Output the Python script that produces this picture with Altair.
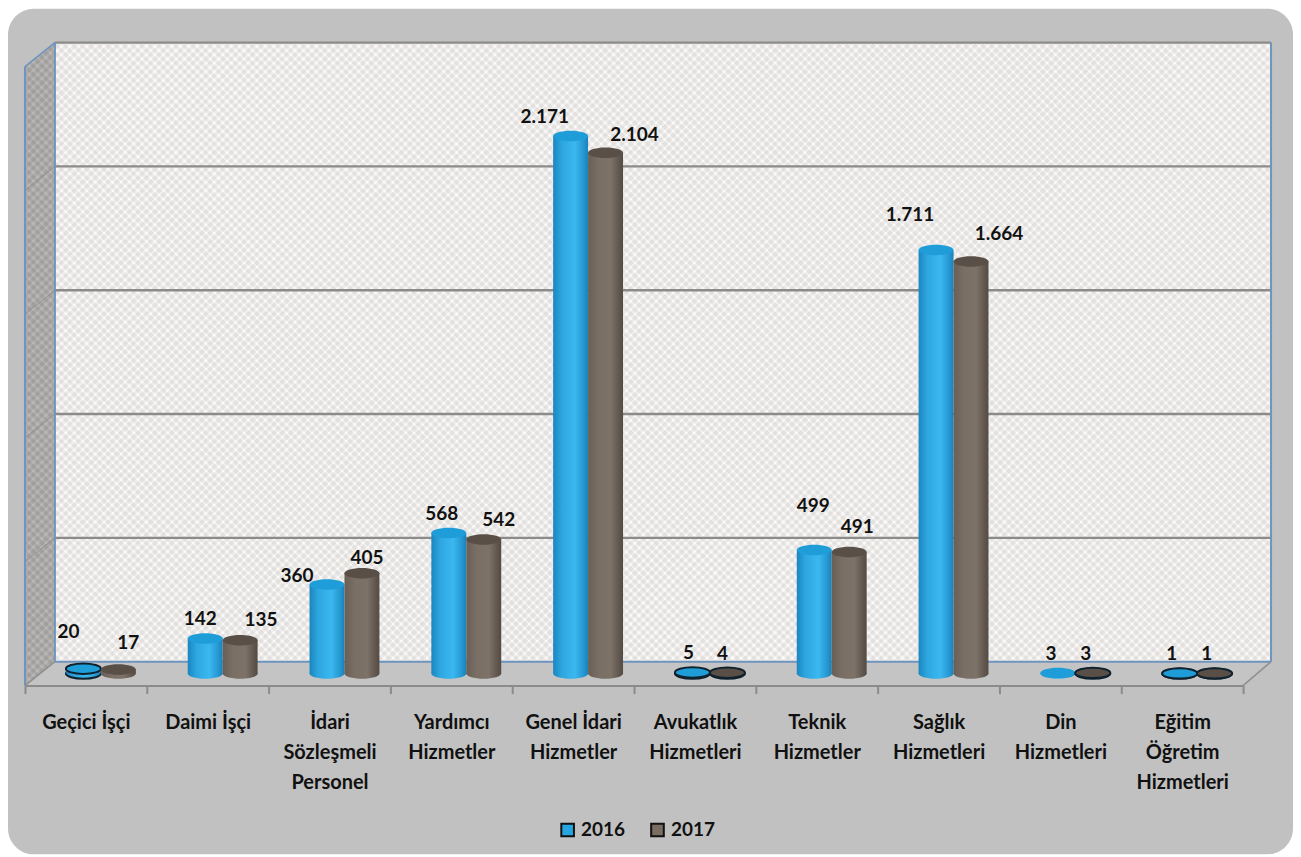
import math
import altair as alt

categories = ["Geçici İşçi", "Daimi İşçi", "İdari\nSözleşmeli\nPersonel", "Yardımcı\nHizmetler",
              "Genel İdari\nHizmetler", "Avukatlık\nHizmetleri", "Teknik\nHizmetler",
              "Sağlık\nHizmetleri", "Din\nHizmetleri", "Eğitim\nÖğretim\nHizmetleri"]
years = ["2016", "2017"]
values_2016 = [20, 142, 360, 568, 2171, 5, 499, 1711, 3, 1]
values_2017 = [17, 135, 405, 542, 2104, 4, 491, 1664, 3, 1]
labels_2016 = ["20", "142", "360", "568", "2.171", "5", "499", "1.711", "3", "1"]
labels_2017 = ["17", "135", "405", "542", "2.104", "4", "491", "1.664", "3", "1"]
outlined_2016 = [True, False, False, False, False, True, False, False, False, True]
outlined_2017 = [False, False, False, False, False, True, False, False, True, True]
nudge_x_2016 = [-15, -5, -30, -7, -26, -4, -1, -26, -7, -8]
nudge_y_2016 = [-37, -19, -8, -19, -19, -19, -44, -35, -19, -19]
nudge_x_2017 = [10, 21, 5, 15, 29, -5, 8, 28, -7, -8]
nudge_y_2017 = [-26, -20, -15, -19, -18, -19, -25, -28, -19, -19]
gridline_values = [500, 1000, 1500, 2000, 2500]

# layout, relative to the page
CANVAS_W, CANVAS_H = 1287, 847
PAD_L, PAD_T = 17, 46
PLOT_W, PLOT_H = 1220, 620
ELLIPSE = "M-1,0 A1,0.3 0 1 1 1,0 A1,0.3 0 1 1 -1,0 Z"


def hatch(w, h, rising, period, color):
    a, b = 1.0, h / w
    s = (a + b) / (a * a + b * b)
    extent = (w + h) / math.sqrt(2)
    n = int(extent / period)
    stops = []
    for i in range(n):
        for frac, col in ((0.0, "rgba(0,0,0,0)"), (0.35, "rgba(0,0,0,0)"), (0.65, color), (1.0, color)):
            stops.append(alt.GradientStop(color=col, offset=min(1.0, (i + frac) / n)))
    if rising:
        return alt.Gradient(gradient="linear", stops=stops, x1=0, y1=1, x2=s * a, y2=1 - s * b)
    return alt.Gradient(gradient="linear", stops=stops, x1=0, y1=0, x2=s * a, y2=s * b)


def horiz(*pairs):
    return alt.Gradient(gradient="linear", x1=0, x2=1, y1=0, y2=0,
                        stops=[alt.GradientStop(offset=o, color=c) for o, c in pairs])


body_fill = {
    "2016": horiz((0, "#1a86c0"), (0.25, "#2ea6df"), (0.62, "#3bb8f0"), (0.88, "#2596d0"), (1, "#1a80b8")),
    "2017": horiz((0, "#6a5f56"), (0.3, "#7a6f65"), (0.65, "#7d7268"), (0.9, "#5f554d"), (1, "#544b44")),
}
top_colors = ["#1f9dd9", "#594f47"]

rows = []
for i, cat in enumerate(categories):
    for y, vals, labs, outl, nx, ny in (
        ("2016", values_2016, labels_2016, outlined_2016, nudge_x_2016, nudge_y_2016),
        ("2017", values_2017, labels_2017, outlined_2017, nudge_x_2017, nudge_y_2017),
    ):
        rows.append(dict(cat=cat, year=y, v=vals[i], zero=0, label=labs[i], outlined=outl[i], nx=nx[i], ny=ny[i]))

x_scale = alt.Scale(domain=categories, paddingInner=0, paddingOuter=0)
off_scale = alt.Scale(domain=years, range=[41, 111], paddingInner=0, paddingOuter=0)
y_scale = alt.Scale(domain=[0, 2500], nice=False, zero=True)
X = alt.X("cat:N", scale=x_scale, axis=None, sort=None)
XO = alt.XOffset("year:N", scale=off_scale, sort=None)
Yv = alt.Y("v:Q", scale=y_scale, axis=None)
Y0 = alt.Y("zero:Q", scale=y_scale, axis=None)
stroke_w = alt.condition("datum.outlined", alt.value(2), alt.value(0))
one = alt.Data(values=[{"a": 1}])


def rel_x(px):
    return px - PAD_L - 8


def rel_y(py):
    return py - PAD_T - 8


def box(mark, left, right, top, bottom):
    return mark.encode(x=alt.value(rel_x(left)), x2=alt.value(rel_x(right)),
                       y=alt.value(rel_y(top)), y2=alt.value(rel_y(bottom)))


def hline(x1, y1, x2, y2, color, width):
    return alt.Chart(one).mark_rule(color=color, strokeWidth=width).encode(
        x=alt.value(rel_x(x1)), x2=alt.value(rel_x(x2)), y=alt.value(rel_y(y1)), y2=alt.value(rel_y(y2)))


def polygon(points, fill, **kw):
    vals = [dict(px=rel_x(a), t=rel_y(b), u=rel_y(c)) for a, b, c in points]
    return alt.Chart(alt.Data(values=vals)).mark_area(fill=fill, **kw).encode(
        x=alt.X("px:Q", scale=None, axis=None),
        y=alt.Y("t:Q", scale=None, axis=None),
        y2="u:Q",
    )


layers = []
# panel
layers.append(box(alt.Chart(one).mark_rect(color="#c1c1c1", cornerRadius=26), 8, 1295, 8, 855))
# back wall
WL, WR, WT, WB = 55, 1273, 42, 662
layers.append(box(alt.Chart(one).mark_rect(color="#fbfaf9"), WL, WR, WT, WB))
for rising in (True, False):
    layers.append(box(alt.Chart(one).mark_rect(fill=hatch(WR - WL, WB - WT, rising, 6, "rgba(175,170,165,0.17)")),
                      WL, WR, WT, WB))
# left wall
LEFT = [(25, 66, 686), (55, 42, 662)]
layers.append(polygon(LEFT, "#b9b8b6"))
for rising in (True, False):
    layers.append(polygon(LEFT, hatch(30, 644, rising, 6, "rgba(95,92,90,0.15)")))
# floor
layers.append(polygon([(25, 686, 686), (55, 662, 686), (1245, 662, 686), (1273, 662, 662)], "#c4c4c4"))
# gridlines on the walls
grid_y = [WB - (WB - WT) * g / 2500 for g in gridline_values]
for gy in grid_y:
    layers.append(hline(WL, gy, WR, gy, "#8b8b89", 2.4))
    layers.append(hline(25, gy + 24, WL, gy, "#8f8f8f", 1))
# wall outlines
layers.append(hline(WL, 662, WR, 662, "#6f94c0", 2))
layers.append(hline(WL, WT, WL, WB, "#6f94c0", 2))
layers.append(hline(WR, WT, WR, WB, "#6f94c0", 2))
layers.append(hline(25, 66, 25, 686, "#6f94c0", 2))
layers.append(hline(25, 66, WL, WT, "#6f94c0", 1.5))
layers.append(hline(25, 686, WL, 662, "#8f8f8f", 1.5))
layers.append(hline(1245, 686, WR, 662, "#8f8f8f", 1.5))

# category axis and legend on an invisible layer
layers.append(alt.Chart(alt.Data(values=rows)).mark_point(opacity=0, filled=True).encode(
    x=alt.X("cat:N", scale=x_scale, sort=None, title=None, axis=alt.Axis(
        orient="bottom", offset=12, tickBand="extent", labelAngle=0, domainColor="#8b8b8b", domainWidth=2,
        tickColor="#8b8b8b", tickWidth=2, tickSize=8, labelFont="Lato", labelFontWeight="bold",
        labelFontSize=20, labelColor="#111111", labelLimit=0, labelPadding=19, labelLineHeight=30,
        labelBaseline="top", labelExpr="split(datum.label, '\\n')", grid=False, zindex=1)),
    y=Y0,
    color=alt.Color("year:N", scale=alt.Scale(domain=years, range=["#27a5e0", "#7a6e63"]), legend=alt.Legend(
        title=None, orient="none", legendX=534, legendY=767, direction="horizontal", symbolType="square",
        symbolSize=160, symbolStrokeColor="#111111", symbolStrokeWidth=2, symbolOpacity=1, labelFont="Lato",
        labelFontWeight="bold", labelFontSize=19, labelColor="#111111", labelOffset=4, columnPadding=21))))

# cylinders, one series after the other so the 2017 one lies on top
for yr, top in zip(years, top_colors):
    data = alt.Data(values=[r for r in rows if r["year"] == yr])
    base = alt.Chart(data)
    layers.append(base.mark_point(shape=ELLIPSE, size=1225, filled=True, fill=body_fill[yr], stroke="#10222e", opacity=1)
                  .encode(x=X, xOffset=XO, y=Y0, strokeWidth=stroke_w))
    layers.append(base.mark_bar(fill=body_fill[yr]).encode(x=X, xOffset=XO, y=Yv, y2=alt.Y2("zero:Q")))
    layers.append(base.mark_point(shape=ELLIPSE, size=1225, filled=True, fill=top, stroke="#10222e", opacity=1).encode(
        x=X, xOffset=XO, y=Yv, strokeWidth=stroke_w))

# value labels, each moved by hand in the reference
for r in rows:
    layers.append(alt.Chart(alt.Data(values=[r])).mark_text(
        font="Lato", fontWeight="bold", fontSize=19, color="#111111", dx=r["nx"], dy=r["ny"]).encode(
        x=X, xOffset=XO, y=Yv, text="label:N"))

chart = alt.layer(*layers).resolve_scale(x="independent", y="independent").properties(
    width=PLOT_W, height=PLOT_H,
    padding={"left": PAD_L, "top": PAD_T, "right": CANVAS_W - PAD_L - PLOT_W, "bottom": CANVAS_H - PAD_T - PLOT_H},
    autosize=alt.AutoSizeParams(type="none"),
    background="#ffffff",
).configure_view(stroke=None)

chart.save("out.html", embed_options={"renderer": "svg", "actions": False})
